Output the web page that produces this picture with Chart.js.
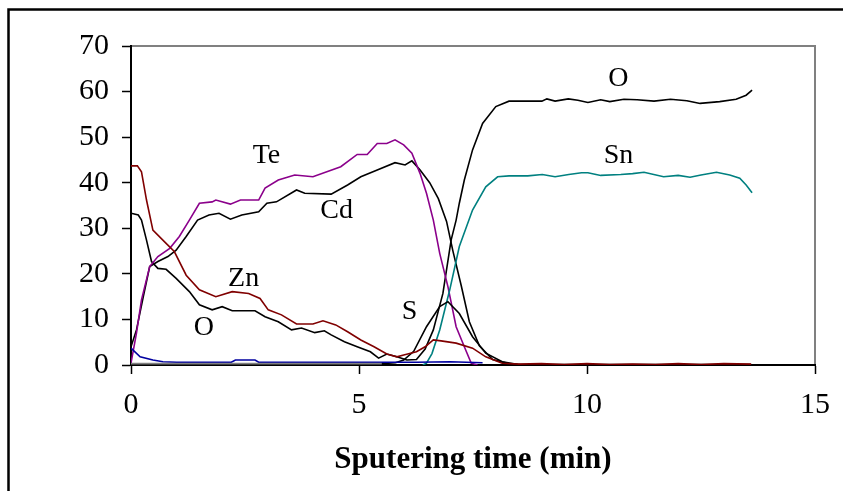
<!DOCTYPE html>
<html>
<head>
<meta charset="utf-8">
<script src="https://cdn.jsdelivr.net/npm/chart.js@4.4.1/dist/chart.umd.min.js"></script>
<style>
html,body{margin:0;padding:0;background:#fff;}
canvas{display:block;}
</style>
</head>
<body>
<canvas id="c" width="843" height="491"></canvas>
<script>
// ---- data ----
const xTicks = [0, 5, 10, 15];
const yTicks = [0, 10, 20, 30, 40, 50, 60, 70];

const znT = [0,0.14,0.23,0.34,0.48,0.77,0.95,1.21,1.5,1.86,2.22,2.58,2.83,3.01,3.3,3.63,3.99,4.21,4.49,4.75,5.04,5.33,5.61,5.83,5.98,6.26,6.45,6.63,6.8,7.13,7.49,7.78,8.14,8.5,9,9.5,10,10.5,11,11.5,12,12.5,13,13.6];
const znV = [43.7,43.7,42.4,36.2,29.6,26.7,24.9,19.7,16.5,15,16.1,15.7,14.6,12.1,11,9,9,9.7,8.8,7.3,5.5,4,2.4,1.8,2.2,2.9,4,5.5,5.3,4.8,3.7,1.8,0.4,0.2,0.3,0.1,0.3,0.1,0.2,0.1,0.3,0.1,0.3,0.2];

const oT = [0,0.16,0.23,0.34,0.45,0.59,0.77,0.99,1.28,1.5,1.78,2.0,2.22,2.72,2.94,3.23,3.52,3.74,4.03,4.24,4.39,4.68,4.96,5.25,5.43,5.61,5.83,6.05,6.26,6.45,6.63,6.84,7.02,7.13,7.2,7.31,7.49,7.71,8.0,8.29,8.6,9.01,9.12,9.3,9.59,9.8,10.02,10.3,10.5,10.81,11.1,11.47,11.83,12.19,12.48,12.91,13.27,13.49,13.62];
const oV = [33.3,32.9,31.8,27.4,22.7,21.2,21,19,16.1,13.2,12.1,12.8,11.9,11.9,10.6,9.5,7.7,8.1,7.1,7.5,6.6,5.1,4,2.9,1.5,2.4,1.8,1.1,1.2,3.5,7.7,15.7,27.4,31.8,35.5,40.6,47.2,53,56.7,57.9,57.9,57.9,58.4,57.9,58.4,58.1,57.6,58.2,57.8,58.3,58.2,57.9,58.3,58,57.4,57.8,58.3,59.2,60.3];

const teT = [0,0.12,0.23,0.41,0.59,0.85,1.06,1.28,1.5,1.78,1.86,2.18,2.4,2.8,2.94,3.23,3.59,3.99,4.6,4.96,5.18,5.4,5.61,5.79,5.98,6.16,6.34,6.48,6.63,6.77,6.95,7.13,7.31,7.46,7.6];
const teV = [0.4,7,14.3,21.6,23.8,25.6,28.2,31.8,35.5,35.8,36.2,35.3,36.2,36.2,38.8,40.6,41.7,41.3,43.5,46.2,46.2,48.6,48.6,49.4,48.3,46.5,42,37.7,31.8,24.5,17.2,8.4,4,0.4,0];

const cdT = [0,0.12,0.27,0.41,0.59,0.81,0.99,1.21,1.46,1.71,1.93,2.18,2.43,2.8,2.98,3.19,3.63,3.81,4.39,4.75,5.04,5.4,5.79,6.01,6.16,6.34,6.55,6.74,6.92,7.06,7.24,7.42,7.64,7.93,8.28,8.6];
const cdV = [4,7.7,15,21.6,22.7,23.8,25.2,28.2,31.8,32.9,33.3,32,32.9,33.6,35.5,35.8,38.4,37.7,37.5,39.5,41.3,42.8,44.4,43.9,44.8,42.8,40,36.5,31.5,25,17.5,9.5,4.2,1.2,0.3,0];

const sT = [0,5.5,5.8,5.98,6.2,6.48,6.77,6.95,7.2,7.49,7.78,8.14,8.5,13.6];
const sV = [0.2,0.3,0.5,1.1,3,8.4,12.8,13.9,11.3,6.2,2.6,0.7,0.1,0.1];

const snT = [6.4,6.48,6.6,6.77,6.99,7.2,7.49,7.78,8.04,8.29,8.7,9.02,9.3,9.6,9.88,10.02,10.3,10.74,11.0,11.25,11.68,12.0,12.26,12.5,12.84,13.13,13.35,13.49,13.62];
const snV = [0,0.4,2.5,7.7,16.5,26,34,39.1,41.3,41.5,41.5,41.8,41.3,41.8,42.2,42.2,41.6,41.8,42,42.3,41.3,41.6,41.2,41.7,42.3,41.7,41,39.5,37.8];

const blueT = [0,0.2,0.48,0.7,1.0,2.2,2.29,2.72,2.8,6.26,7.0,7.71];
const blueV = [3.7,1.8,1.1,0.7,0.6,0.6,1.1,1.1,0.6,0.6,0.7,0.5];

const grayT = [0,5.5];
const grayV = [0.3,0.3];

const labelText = ['Te','Cd','Zn','O','S','O','Sn'];
const labelT = [2.97,4.51,2.47,1.6,6.11,10.69,10.69];
const labelV = [45.9,33.8,18.9,8.3,11.6,62.8,45.9];

function pts(t, v){ return t.map((x,i)=>({x:x, y:v[i]})); }
function ds(t, v, color){
  return {data: pts(t,v), borderColor: color, borderWidth: 1.6, pointRadius: 0, showLine: true, fill: false, tension: 0};
}

const FONT = "'Liberation Serif','Times New Roman',serif";

const framePlugin = {
  id: 'frame',
  beforeDraw(chart){
    const c = chart.ctx;
    c.save();
    c.fillStyle = '#fff';
    c.fillRect(0,0,chart.width,chart.height);
    c.strokeStyle = '#000';
    c.lineWidth = 2.5;
    c.beginPath();
    c.moveTo(8.5, chart.height);
    c.lineTo(8.5, 9.5);
    c.lineTo(chart.width, 9.5);
    c.stroke();
    const a = chart.chartArea;
    c.strokeStyle = '#808080';
    c.lineWidth = 2;
    c.beginPath();
    c.moveTo(a.left, a.top);
    c.lineTo(a.right, a.top);
    c.lineTo(a.right, a.bottom);
    c.stroke();
    c.restore();
  },
  afterDatasetsDraw(chart){
    const c = chart.ctx;
    const xs = chart.scales.x, ys = chart.scales.y;
    c.save();
    c.fillStyle = '#000';
    c.font = '28px ' + FONT;
    c.textAlign = 'center';
    c.textBaseline = 'middle';
    labelText.forEach((s,i)=>{
      c.fillText(s, xs.getPixelForValue(labelT[i]), ys.getPixelForValue(labelV[i]));
    });
    c.restore();
  }
};

new Chart(document.getElementById('c'), {
  type: 'scatter',
  data: {
    datasets: [
      ds(grayT, grayV, '#808080'),
      ds(blueT, blueV, '#0000A0'),
      ds(znT, znV, '#800000'),
      ds(sT, sV, '#000000'),
      ds(snT, snV, '#008080'),
      ds(teT, teV, '#8B008B'),
      ds(cdT, cdV, '#000000'),
      ds(oT, oV, '#000000')
    ]
  },
  options: {
    responsive: false,
    animation: false,
    devicePixelRatio: 1,
    layout: {padding: {top: 46, right: 20, left: 0, bottom: 0}},
    plugins: {legend: {display: false}, tooltip: {enabled: false}},
    scales: {
      x: {
        type: 'linear', min: 0, max: 15,
        afterFit(s){ s.height = 126; },
        afterBuildTicks(s){ s.ticks = xTicks.map(v=>({value:v})); },
        ticks: {color: '#000', font: {family: FONT, size: 30}, padding: 13},
        grid: {drawOnChartArea: false, drawTicks: true, tickLength: 9, tickColor: '#000', tickWidth: 1.5},
        border: {color: '#000', width: 2},
        title: {display: true, text: 'Sputering time (min)', color: '#000', font: {family: FONT, size: 31, weight: 'bold'}, padding: {top: 0, bottom: 12}}
      },
      y: {
        min: 0, max: 70,
        afterFit(s){ s.width = 131; },
        afterBuildTicks(s){ s.ticks = yTicks.map(v=>({value:v})); },
        ticks: {color: '#000', font: {family: FONT, size: 30}, padding: 13},
        grid: {drawOnChartArea: false, drawTicks: true, tickLength: 9, tickColor: '#000', tickWidth: 1.5},
        border: {color: '#000', width: 2}
      }
    }
  },
  plugins: [framePlugin]
});
</script>
</body>
</html>
